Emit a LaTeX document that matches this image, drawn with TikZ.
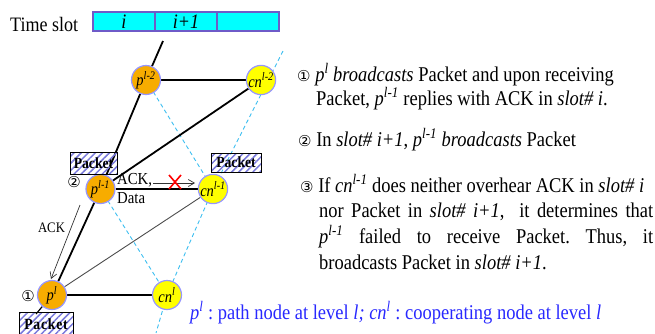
\documentclass[tikz,border=0pt]{standalone}
\usepackage{fontspec}
\setmainfont{Liberation Serif}[FakeStretch=0.88]
\newfontfamily\symf{DejaVu Sans}
\usetikzlibrary{patterns.meta,arrows.meta}
\pgfdeclarelayer{bg}
\pgfsetlayers{bg,main}
\definecolor{porange}{RGB}{247,172,0}
\definecolor{cyell}{RGB}{255,255,0}
\definecolor{nborder}{RGB}{150,150,255}
\definecolor{slotfill}{RGB}{0,255,255}
\definecolor{slotdraw}{RGB}{110,90,200}
\definecolor{dashblue}{RGB}{60,190,240}
\definecolor{hatchc}{RGB}{120,120,220}
\definecolor{txtblue}{RGB}{40,40,255}
\newcommand\nodep[1]{\textit{p}\textsuperscript{\textit{#1}}}
\newcommand\nodecn[1]{\textit{cn}\textsuperscript{\textit{#1}}}
\newcommand\cnum[1]{{\symf\fontsize{15}{15}\selectfont #1}}
\frenchspacing
\begin{document}
\begin{tikzpicture}[x=1pt,y=-1pt,
  pnode/.style={circle,draw=nborder,line width=1.2pt,fill=porange,minimum size=29pt,inner sep=0pt,font=\fontsize{16.5}{16.5}\selectfont},
  cnode/.style={pnode,fill=cyell},
  link/.style={line width=1.8pt,black},
  thinlink/.style={line width=0.9pt,black!70},
  guide/.style={dashblue,line width=0.9pt,dash pattern=on 4pt off 3pt},
  pkt/.style={draw=black,line width=0.8pt,pattern={Lines[angle=45,distance=5pt,line width=1.5pt]},pattern color=hatchc,font=\bfseries\fontsize{15.5}{15.5}\selectfont,inner sep=0pt},
  slot/.style={draw=slotdraw,fill=slotfill,line width=1.2pt,minimum width=62pt,minimum height=19pt,inner sep=0pt,font=\itshape\fontsize{20.5}{20.5}\selectfont},
  txt/.style={anchor=base west,inner sep=0pt,font=\fontsize{21}{24}\selectfont},
  lbl/.style={inner sep=0pt,font=\fontsize{16.8}{16.8}\selectfont},
  msg/.style={gray!40!black,line width=0.7pt,-{Straight Barb[length=6pt,width=7pt]}},
  ]
\useasboundingbox (0,0) rectangle (655,333);

% time slot
\node[txt,font=\fontsize{20.5}{20.5}\selectfont] (ts) at (10,31) {Time slot};
\node[slot] (s1) at (124,21.5) {i};
\node[slot] (s2) at (186,21.5) {i+1};
\node[slot] (s3) at (248,21.5) {};

% nodes
\node[pnode] (p2) at (146,80) {\nodep{l-2}};
\node[cnode] (c2) at (261,80) {\nodecn{l-2}};
\node[pnode] (p1) at (100.5,189) {\nodep{l-1}};
\node[cnode] (c1) at (213,189) {\nodecn{l-1}};
\node[pnode] (p0) at (52,295) {\nodep{l}};
\node[cnode] (c0) at (167,295) {\nodecn{l}};

\coordinate (top) at (163,41);
\coordinate (gtop) at (283,51);
\coordinate (gbot) at (156,333);
\coordinate (pkfoot) at (36,314);

\begin{pgfonlayer}{bg}
\draw[guide] (gtop) -- (c1.center) -- (c0.center) -- (gbot);
\draw[guide] (p2.center) -- (c1.center);
\draw[guide] (p1.center) -- (c0.center);
\draw[link] (top) -- (p2);
\draw[link] (p2) -- (c2);
\draw[link] (p2) -- (p1);
\draw[link] (c2) -- (p1);
\draw[link] (p1) -- (c1);
\draw[thinlink] (c1) -- (p0);
\draw[link] (p1) -- (p0);
\draw[link] (p0) -- (c0);
\draw[line width=1.2pt] (p0) -- (pkfoot);
\end{pgfonlayer}

% packets
\node[pkt,minimum width=47pt,minimum height=22pt] (pk1) at (93.5,163) {Packet};
\node[pkt,minimum width=50pt,minimum height=19pt] (pk2) at (236,162.5) {Packet};
\node[pkt,minimum width=54pt,minimum height=24pt,font=\bfseries\fontsize{15.5}{15.5}\selectfont\addfontfeature{LetterSpace=5}] (pk3) at (46,324) {Packet};

% step marks
\node[inner sep=0pt] (m2) at (74,182) {\cnum{②}};
\node[inner sep=0pt] (m1) at (28,296) {\cnum{①}};

% messages
\node[lbl,anchor=base west] (ackd) at (117,184) {ACK,};
\node[lbl,anchor=base west] (data) at (117,203) {Data};
\coordinate (xa) at (153,183);
\coordinate (xb) at (195,183);
\draw[msg] (xa) -- (xb);
\coordinate (xc) at (175,182);
\draw[red,line width=1.6pt] ([shift={(-6,-7)}]xc) -- ([shift={(6,7)}]xc);
\draw[red,line width=1.6pt] ([shift={(6,-7)}]xc) -- ([shift={(-6,7)}]xc);

\node[lbl,anchor=base,font=\fontsize{14.5}{14.5}\selectfont] (ackl) at (51.5,232) {ACK};
\coordinate (aa) at (80,205);
\coordinate (ab) at (51,279);
\draw[msg] (aa) -- (ab);

% right text
\node[txt] (t1) at (297,81) {\cnum{①} \nodep{l} \textit{broadcasts} Packet and upon receiving};
\node[txt] (t2) at (316,105) {Packet, \nodep{l-1} replies with ACK in \textit{slot\# i}.};
\node[txt] (t3) at (298,146) {\cnum{②} In \textit{slot\# i+1}, \nodep{l-1} \textit{broadcasts} Packet};
\node[txt] (t4) at (300,192) {\cnum{③} If \nodecn{l-1} does neither overhear ACK in \textit{slot\# i}};
\node[txt] (t5) at (319,217) {\makebox[334pt][s]{nor Packet in \textit{slot\# i+1}, \ it determines that}};
\node[txt] (t6) at (319,243) {\makebox[334pt][s]{\nodep{l-1} failed to receive Packet. Thus, it}};
\node[txt] (t7) at (319,269) {broadcasts Packet in \textit{slot\# i+1}.};
\node[txt,text=txtblue] (leg) at (190,319) {\nodep{l} : path node at level \textit{l; }\nodecn{l} : cooperating node at level \textit{l}};
\end{tikzpicture}
\end{document}
